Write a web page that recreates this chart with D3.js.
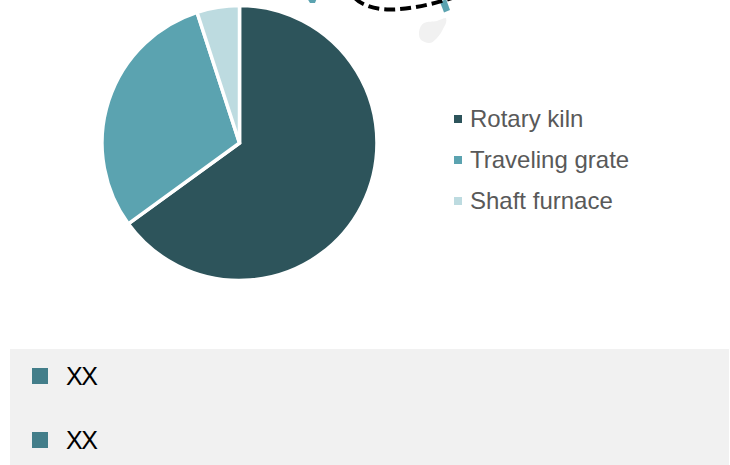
<!DOCTYPE html>
<html>
<head>
<meta charset="utf-8">
<script src="https://cdn.jsdelivr.net/npm/d3@7"></script>
<style>
html, body { margin: 0; padding: 0; background: #fff; }
svg { display: block; }
</style>
</head>
<body>
<svg id="chart" width="730" height="465"></svg>
<script>
const categories = ["Rotary kiln", "Traveling grate", "Shaft furnace"];
const shares = [65, 30, 5];
const sliceColors = ["#2d545b", "#5ba3b0", "#bddbe0"];
const noteLabels = ["XX", "XX"];

const svg = d3.select("#chart");

// Fragment of a map outline running off the top edge
const map = svg.append("g");
map.append("path")
  .attr("d", "M419 32 C420 27 421 25 424 23 C428 21 433 22 437 21 C440 20 443 18 446 18 C447 21 446 24 444 27 C442 31 440 35 437 38 C434 41 432 43 429 43 C426 43 423 41 421 40 C419 38 419 35 419 32 Z")
  .attr("fill", "#f1f1f1");
map.append("path")
  .attr("d", "M307 -2 L317 -2 L315 3 L310 3 Z")
  .attr("fill", "#5ba3b0");
map.append("path")
  .attr("d", "M440 2 L446 -1 L450 10 L444 12.5 Z")
  .attr("fill", "#5ba3b0");
map.append("path")
  .attr("d", "M355 -2 C362 6 378 10 392 9.5 C410 9 430 5 452 -2")
  .attr("fill", "none")
  .attr("stroke", "#000")
  .attr("stroke-width", 4)
  .attr("stroke-dasharray", "11 5");

// Pie
const pie = d3.pie().sort(null).value(d => d);
const arc = d3.arc().innerRadius(0).outerRadius(137.5);
svg.append("g")
  .attr("transform", "translate(239.5,143)")
  .selectAll("path")
  .data(pie(shares))
  .join("path")
  .attr("d", arc)
  .attr("fill", (d, i) => sliceColors[i])
  .attr("stroke", "#fff")
  .attr("stroke-width", 3.5)
  .attr("stroke-linejoin", "miter");

// Legend
const legendY = d3.scalePoint().domain(categories).range([119, 201]);
const legend = svg.append("g").selectAll("g")
  .data(categories)
  .join("g")
  .attr("transform", d => `translate(0,${legendY(d)})`);
legend.append("rect")
  .attr("x", 454).attr("y", -4).attr("width", 8).attr("height", 8)
  .attr("fill", (d, i) => sliceColors[i]);
legend.append("text")
  .attr("x", 470).attr("y", 0).attr("dy", "0.35em")
  .attr("font-family", "'Liberation Sans', Arial, sans-serif")
  .attr("font-size", 24)
  .attr("fill", "#595959")
  .text(d => d);

// Notes panel
svg.append("rect")
  .attr("x", 10).attr("y", 349).attr("width", 719).attr("height", 116)
  .attr("fill", "#f1f1f1");
const noteY = d3.scalePoint().domain(d3.range(noteLabels.length)).range([376, 440]);
const notes = svg.append("g").selectAll("g")
  .data(noteLabels)
  .join("g")
  .attr("transform", (d, i) => `translate(0,${noteY(i)})`);
notes.append("rect")
  .attr("x", 32).attr("y", -8).attr("width", 16).attr("height", 16)
  .attr("fill", "#437e8a");
notes.append("text")
  .attr("x", 66).attr("y", 0).attr("dy", "0.37em")
  .attr("font-family", "'Liberation Sans', Arial, sans-serif")
  .attr("font-size", 25)
  .attr("letter-spacing", -1.5)
  .attr("fill", "#000")
  .text(d => d);
</script>
</body>
</html>
